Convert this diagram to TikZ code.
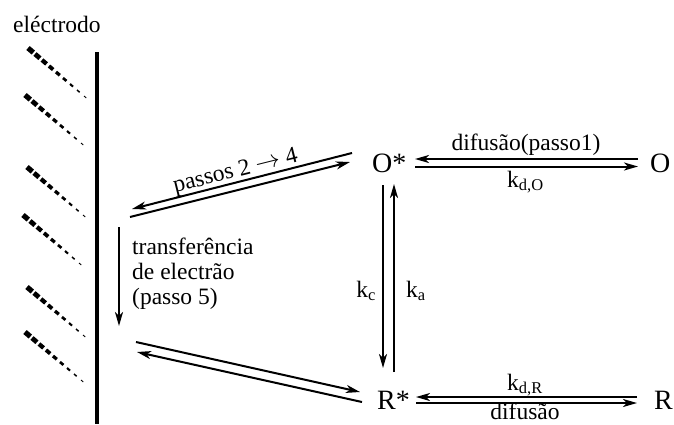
\documentclass[tikz,border=0pt]{standalone}
\usepackage{fontspec}
\setmainfont{Liberation Serif}
\usetikzlibrary{arrows.meta,calc}

\begin{document}
\begin{tikzpicture}[x=1pt,y=-1pt,
  font=\fontsize{23.5}{25}\selectfont,
  arr/.style={-{Stealth[length=14pt,width=8pt,inset=4pt]},line width=2pt},
  spc/.style={inner sep=0pt,anchor=base west},
  species/.style={spc,font=\fontsize{28}{30}\selectfont},
  lbl/.style={inner sep=0pt}]
  \useasboundingbox (0,0) rectangle (674,424);
  % electrode and its surface
  \node[spc] (el) at (13,32) {eléctrodo};
  \draw[line width=4pt] (97,52) -- (97,424);
  \foreach \sx/\sy in {28/48,25/95,27/167,23/215,27/287,25/332}
    \foreach \i/\w/\l in {0/5.2/7,1/4.8/6.5,2/4.3/6,3/3.8/5.5,4/3.3/5,5/2.7/4.5,6/2.1/4,7/1.5/3.5,8/0.9/3}
      \draw[line width=\w pt] ($(\sx,\sy)+(\i*7,\i*6)$) -- ++(0.76*\l,0.65*\l);
  % species
  \node[species] (Os) at (372,172) {O*};
  \node[species] (O) at (650,172) {O};
  \node[species] (Rs) at (377,409) {R*};
  \node[species] (R) at (654,409) {R};
  % free ends at the electrode
  \coordinate (a1) at (132,209);
  \coordinate (a2) at (130,217);
  \coordinate (b1) at (136,342);
  \coordinate (b2) at (137,352);
  \coordinate (t1) at (119,227);
  \coordinate (t2) at (119,326);
  % steps
  \draw[arr] ([shift={(-20,-19)}]Os.base west) -- (a1);
  \draw[arr] (a2) -- ([shift={(-22,-10)}]Os.base west);
  \draw[arr] ([shift={(-12,-13)}]O.base west) -- ([shift={(43,-13)}]Os.base west);
  \draw[arr] ([shift={(43,-5.5)}]Os.base west) -- ([shift={(-12,-5.5)}]O.base west);
  \draw[arr] ([shift={(11,13)}]Os.base west) -- ([shift={(6,-41)}]Rs.base west);
  \draw[arr] ([shift={(17,-37)}]Rs.base west) -- ([shift={(22,12)}]Os.base west);
  \draw[arr] (b1) -- ([shift={(-17,-17)}]Rs.base west);
  \draw[arr] ([shift={(-15,-7)}]Rs.base west) -- (b2);
  \draw[arr] ([shift={(-17,-12)}]R.base west) -- ([shift={(39,-12)}]Rs.base west);
  \draw[arr] ([shift={(39,-6)}]Rs.base west) -- ([shift={(-17,-6)}]R.base west);
  \draw[arr] (t1) -- (t2);
  % labels
  \node[lbl,anchor=base,rotate=14] at (237,177) {passos 2 $\rightarrow$ 4};
  \node[lbl,anchor=north west,align=left] at (132,238)
    {transferência\\de electrão\\(passo 5)};
  \node[lbl,anchor=base] at (526,150) {difusão(passo1)};
  \node[spc] at (507,187) {k\textsubscript{d,O}};
  \node[lbl,anchor=base east] at (376,297) {k\textsubscript{c}};
  \node[spc] at (406,297) {k\textsubscript{a}};
  \node[spc] at (507,390) {k\textsubscript{d,R}};
  \node[lbl,anchor=base] at (525,419) {difusão};
\end{tikzpicture}
\end{document}
